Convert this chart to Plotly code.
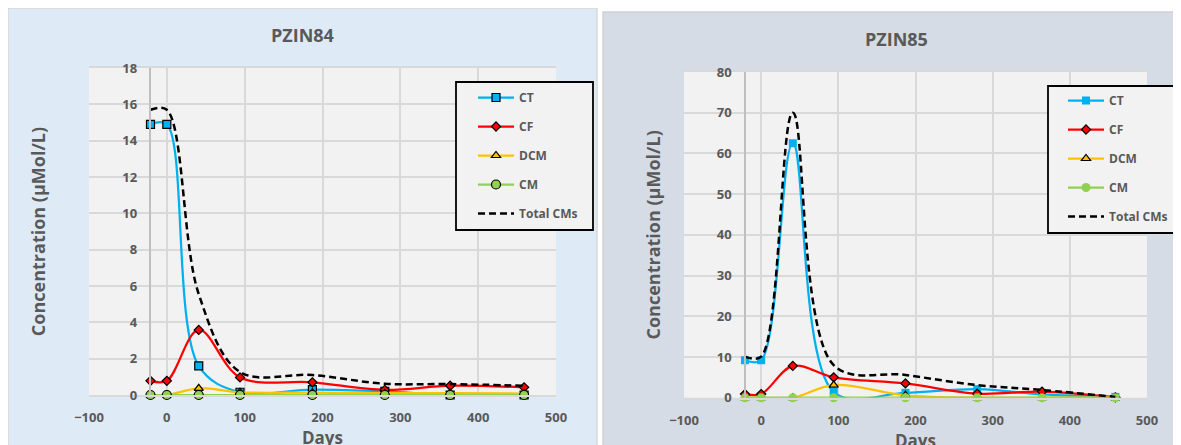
import plotly.graph_objects as go

# ---------------- data ----------------
days = [-21, 0, 41, 94, 187, 280, 364, 459]

ct_84 = [14.9, 14.9, 1.6, 0.15, 0.3, 0.2, 0.0, 0.0]
cf_84 = [0.78, 0.78, 3.58, 0.97, 0.70, 0.28, 0.51, 0.42]
dcm_84 = [0.0, 0.0, 0.37, 0.15, 0.13, 0.10, 0.10, 0.08]
cm_84 = [0.0, 0.0, 0.0, 0.0, 0.0, 0.0, 0.0, 0.0]
total_84 = [15.7, 15.7, 5.55, 1.27, 1.1, 0.62, 0.6, 0.51]

ct_85 = [9.2, 9.2, 62.5, 1.4, 1.2, 2.1, 0.8, 0.2]
cf_85 = [0.9, 0.9, 7.8, 5.0, 3.5, 1.0, 1.5, 0.1]
dcm_85 = [0.0, 0.0, 0.0, 3.1, 0.6, 0.0, 0.0, 0.0]
cm_85 = [0.0, 0.0, 0.0, 0.0, 0.0, 0.0, 0.0, 0.0]
total_85 = [10.1, 10.1, 70.0, 8.0, 5.6, 3.1, 1.9, 0.2]

series_names = ["CT", "CF", "DCM", "CM", "Total CMs"]
titles = ["PZIN84", "PZIN85"]
x_ticks = [-100, 0, 100, 200, 300, 400, 500]
y_max = [18, 80]
y_step = [2, 10]
axis_cross = -21

# ---------------- styling ----------------
W, H = 1181, 445
OFF = 8  # page body margin offset
TXT = "#595959"
FONT = "Open Sans"
GRID = "#D9D9D9"
colors = {"CT": "#00B0F0", "CF": "#FF0000", "DCM": "#FFC000", "CM": "#92D050", "Total CMs": "#000000"}
symbols = {"CT": "square", "CF": "diamond", "DCM": "triangle-up", "CM": "circle"}
msize = {"CT": 8, "CF": 7, "DCM": 8, "CM": 9}


def px_x(p):
    return (p - OFF) / W


def px_y(p):
    return 1 - (p - OFF) / H


# plot area pixel boxes in screen coords (left, right, top, bottom)
boxes = [(89, 556, 68, 395), (684, 1147, 72, 397.7)]
title_standoff = [71, 50]

fig = go.Figure()

panel_data = [
    [ct_84, cf_84, dcm_84, cm_84, total_84],
    [ct_85, cf_85, dcm_85, cm_85, total_85],
]
outline = [
    {"CT": True, "CF": True, "DCM": True, "CM": True},
    {"CT": False, "CF": True, "DCM": True, "CM": False},
]

for i, vals in enumerate(panel_data):
    xa = "x" if i == 0 else "x2"
    ya = "y" if i == 0 else "y2"
    leg = "legend" if i == 0 else "legend2"
    for name, v in zip(series_names, vals):
        if name == "Total CMs":
            fig.add_trace(go.Scatter(
                x=days, y=v, name=name, mode="lines",
                line=dict(color="black", width=2.5, dash="7px,4px", shape="spline", smoothing=1),
                xaxis=xa, yaxis=ya, legend=leg, legendgroup=f"{leg}{name}",
                cliponaxis=True,
            ))
        else:
            has_ol = outline[i][name]
            fig.add_trace(go.Scatter(
                x=days, y=v, name=name, mode="lines+markers",
                line=dict(color=colors[name], width=2.25, shape="spline", smoothing=1),
                marker=dict(symbol=symbols[name], size=msize[name], color=colors[name],
                            line=dict(color="black" if has_ol else colors[name], width=1.2 if has_ol else 0)),
                xaxis=xa, yaxis=ya, legend=leg, legendgroup=f"{leg}{name}",
                cliponaxis=False,
            ))

# axes
for i, (l, r, t, b) in enumerate(boxes):
    sfx = "" if i == 0 else "2"
    dom_x = [px_x(l), px_x(r)]
    dom_y = [px_y(b), px_y(t)]
    cross_pos = dom_x[0] + (axis_cross - x_ticks[0]) / (x_ticks[-1] - x_ticks[0]) * (dom_x[1] - dom_x[0])
    fig.update_layout(**{
        f"xaxis{sfx}": dict(
            domain=dom_x, range=[x_ticks[0], x_ticks[-1]], tickvals=x_ticks,
            showgrid=True, gridcolor=GRID, gridwidth=1.5, zeroline=False,
            showline=True, linecolor=GRID, linewidth=1.5, mirror=True,
            anchor=f"y{sfx}", ticks="", ticklabelstandoff=10, automargin=False,
            tickfont=dict(family=FONT, size=13, color=TXT, weight="bold"),
            title=dict(text="Days", standoff=2, font=dict(family=FONT, size=17, color=TXT, weight="bold")),
            fixedrange=True,
        ),
        f"yaxis{sfx}": dict(
            domain=dom_y, range=[0, y_max[i]], dtick=y_step[i], tick0=0,
            showgrid=True, gridcolor=GRID, gridwidth=1.5, zeroline=False,
            showline=True, linecolor="#BFBFBF", linewidth=1.5, automargin=False,
            anchor="free", position=cross_pos, ticks="", ticklabelstandoff=10,
            tickfont=dict(family=FONT, size=13, color=TXT, weight="bold"),
            title=dict(text="Concentration (µMol/L)", standoff=title_standoff[i],
                       font=dict(family=FONT, size=18, color=TXT, weight="bold")),
            fixedrange=True,
        ),
    })

shapes = [
    dict(type="rect", xref="paper", yref="paper", x0=px_x(8), x1=px_x(597), y0=-0.05, y1=px_y(8),
         fillcolor="#DEEBF7", line=dict(color="#D9D9D9", width=1.5), layer="below"),
    dict(type="rect", xref="paper", yref="paper", x0=px_x(603), x1=1.05, y0=-0.05, y1=px_y(12),
         fillcolor="#D6DCE5", line=dict(color="#D0D0D0", width=1.5), layer="below"),
]
for i, (l, r, t, b) in enumerate(boxes):
    shapes.append(dict(type="rect", xref="paper", yref="paper", x0=px_x(l), x1=px_x(r), y0=px_y(b), y1=px_y(t),
                       fillcolor="#F2F2F2", line=dict(width=0), layer="below"))
# legend boxes
legend_boxes = [(456, 593, 82, 230), (1048, 1180, 86, 233)]
for (l, r, t, b) in legend_boxes:
    shapes.append(dict(type="rect", xref="paper", yref="paper", x0=px_x(l), x1=px_x(r), y0=px_y(b), y1=px_y(t),
                       fillcolor="#F2F2F2", line=dict(color="black", width=1.8), layer="above"))

annotations = [
    dict(text=titles[0], x=px_x(302), y=px_y(35), xref="paper", yref="paper", showarrow=False,
         font=dict(family=FONT, size=18, color=TXT, weight="bold"), xanchor="center", yanchor="middle"),
    dict(text=titles[1], x=px_x(896), y=px_y(39), xref="paper", yref="paper", showarrow=False,
         font=dict(family=FONT, size=18, color=TXT, weight="bold"), xanchor="center", yanchor="middle"),
]

leg_common = dict(bgcolor="rgba(0,0,0,0)", borderwidth=0, tracegroupgap=10, itemwidth=36,
                  font=dict(family=FONT, size=12, color=TXT, weight="bold"),
                  xanchor="left", yanchor="top", itemclick=False, itemdoubleclick=False)

fig.update_layout(
    width=W, height=H, margin=dict(l=0, r=0, t=0, b=0, autoexpand=False),
    paper_bgcolor="white", plot_bgcolor="rgba(0,0,0,0)",
    shapes=shapes, annotations=annotations, showlegend=True,
    legend=dict(x=px_x(473), y=px_y(83), **leg_common),
    legend2=dict(x=px_x(1063), y=px_y(86), **leg_common),
)

fig.write_html("out.html")
